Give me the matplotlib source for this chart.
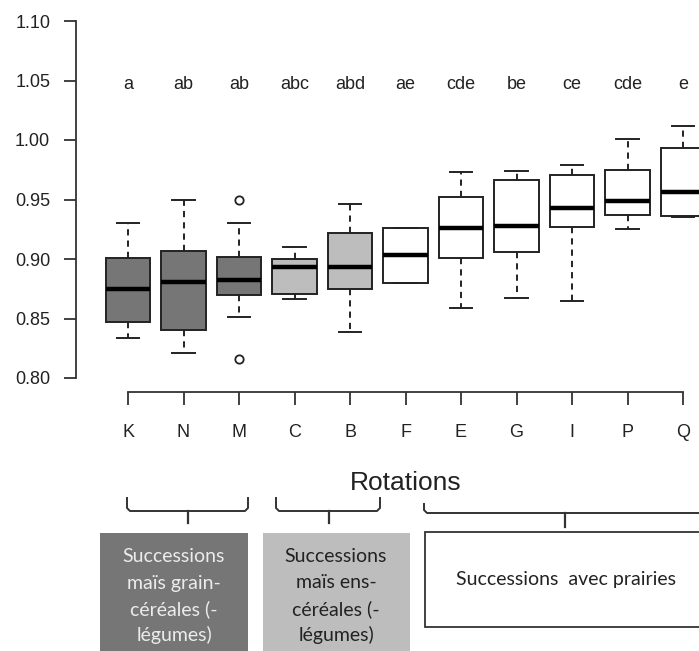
import numpy as np
import matplotlib
matplotlib.use('Agg')
import matplotlib.pyplot as plt
from matplotlib.patches import Rectangle

# Data
rotations = ['K', 'N', 'M', 'C', 'B', 'F', 'E', 'G', 'I', 'P', 'Q']
groupLetters = ['a', 'ab', 'ab', 'abc', 'abd', 'ae', 'cde', 'be', 'ce', 'cde', 'e']
whiskLow = [0.834, 0.821, 0.851, 0.866, 0.839, 0.880, 0.859, 0.867, 0.865, 0.925, 0.935]
q1 = [0.847, 0.840, 0.870, 0.871, 0.875, 0.880, 0.901, 0.906, 0.927, 0.937, 0.936]
med = [0.875, 0.881, 0.882, 0.893, 0.893, 0.903, 0.926, 0.928, 0.943, 0.949, 0.956]
q3 = [0.901, 0.907, 0.902, 0.900, 0.922, 0.926, 0.952, 0.966, 0.971, 0.975, 0.993]
whiskHigh = [0.930, 0.950, 0.930, 0.910, 0.946, 0.926, 0.973, 0.974, 0.979, 1.001, 1.012]
outliers = [[], [], [0.950, 0.816], [], [], [], [], [], [], [], []]
rotGroup = [0, 0, 0, 1, 1, 2, 2, 2, 2, 2, 2]
yTicks = [0.80, 0.85, 0.90, 0.95, 1.00, 1.05, 1.10]

groupNames = ['Successions\nmaïs grain-\ncéréales (-\nlégumes)',
              'Successions\nmaïs ens-\ncéréales (-\nlégumes)',
              'Successions  avec prairies']
groupFill = ['#767676', '#bdbdbd', 'white']
groupText = ['#ececec', '#222222', '#222222']

plt.rcParams['font.family'] = ['Liberation Sans', 'DejaVu Sans']

W, H = 699, 651
fig = plt.figure(figsize=(W / 100, H / 100), dpi=100)

# Main axes placed in pixels (extends past the right edge like the cropped original)
pxPerUnit = 55.5
xK, axLeft, axRight = 128, 76, 760
yTop, yBot = 21, 378
ax = fig.add_axes([axLeft / W, (H - yBot) / H, (axRight - axLeft) / W, (yBot - yTop) / H])
ax.set_xlim(1 - (xK - axLeft) / pxPerUnit, 1 + (axRight - xK) / pxPerUnit)
ax.set_ylim(0.80, 1.10)

stats = []
for i in range(len(rotations)):
    stats.append(dict(whislo=whiskLow[i], q1=q1[i], med=med[i], q3=q3[i],
                      whishi=whiskHigh[i], fliers=outliers[i], label=rotations[i]))

pos = np.arange(1, len(rotations) + 1)
bp = ax.bxp(stats, positions=pos, widths=0.8, capwidths=0.4, patch_artist=True,
            boxprops=dict(edgecolor='#222222', linewidth=1.4),
            medianprops=dict(color='black', linewidth=3.2, solid_capstyle='butt'),
            whiskerprops=dict(color='#222222', linewidth=1.4, linestyle=(0, (3.2, 2.6))),
            capprops=dict(color='#222222', linewidth=1.4),
            flierprops=dict(marker='o', markersize=6, markerfacecolor='none',
                            markeredgecolor='#222222', markeredgewidth=1.3))
for patch, g in zip(bp['boxes'], rotGroup):
    patch.set_facecolor(groupFill[g])

for x, lab in zip(pos, groupLetters):
    ax.text(x, 1.043, lab, ha='center', va='baseline', fontsize=13, color='#222222')

# R style axes
for s in ['top', 'right']:
    ax.spines[s].set_visible(False)
ax.spines['left'].set_color('#333333')
ax.spines['left'].set_linewidth(1.3)
ax.spines['bottom'].set_color('#333333')
ax.spines['bottom'].set_linewidth(1.3)
ax.spines['bottom'].set_position(('outward', 10))
ax.spines['bottom'].set_bounds(1, len(rotations))
ax.set_yticks(yTicks)
ax.set_yticklabels(['%.2f' % v for v in yTicks])
ax.set_xticks(pos)
ax.set_xticklabels(rotations)
ax.tick_params(axis='y', direction='out', length=8.6, width=1.3, color='#333333',
               labelsize=13, pad=10, labelcolor='#222222')
ax.tick_params(axis='x', direction='out', length=9, width=1.3, color='#333333',
               labelsize=13, pad=14, labelcolor='#222222')
ax.patch.set_visible(False)

# Annotation layer in pixel coordinates
ann = fig.add_axes([0, 0, 1, 1])
ann.set_xlim(0, W)
ann.set_ylim(H, 0)
ann.axis('off')
ann.text(406, 483, 'Rotations', ha='center', va='center', fontsize=19, color='#222222')


def drawBrace(x0, x1, xm, top, mid, bot):
    r = 3
    xs = [x0, x0, x0 + r, x1 - r, x1, x1]
    ys = [top, mid - r, mid, mid, mid - r, top]
    ann.plot(xs, ys, color='#333333', lw=1.4, solid_capstyle='butt')
    ann.plot([xm, xm], [mid, bot], color='#333333', lw=1.6)


drawBrace(127, 248, 188, 497, 511, 523)
drawBrace(276, 380, 329, 497, 511, 523)
drawBrace(424, 720, 565, 503, 513, 527)

ann.add_patch(Rectangle((100, 533), 148, 130, facecolor=groupFill[0], edgecolor='none'))
ann.add_patch(Rectangle((263, 533), 147, 130, facecolor=groupFill[1], edgecolor='none'))
ann.add_patch(Rectangle((425, 532), 300, 95, facecolor=groupFill[2], edgecolor='#333333', lw=1.3))

boxCx = [174, 336, 566]
for g in range(2):
    for k, line in enumerate(groupNames[g].split('\n')):
        ann.text(boxCx[g], 557 + 26 * k, line, ha='center', va='center', fontsize=14,
                 color=groupText[g], family=['Lato', 'DejaVu Sans'])
ann.text(boxCx[2], 580, groupNames[2], ha='center', va='center', fontsize=14,
         color=groupText[2], family=['Lato', 'DejaVu Sans'])

fig.savefig('out.png', dpi=100)
